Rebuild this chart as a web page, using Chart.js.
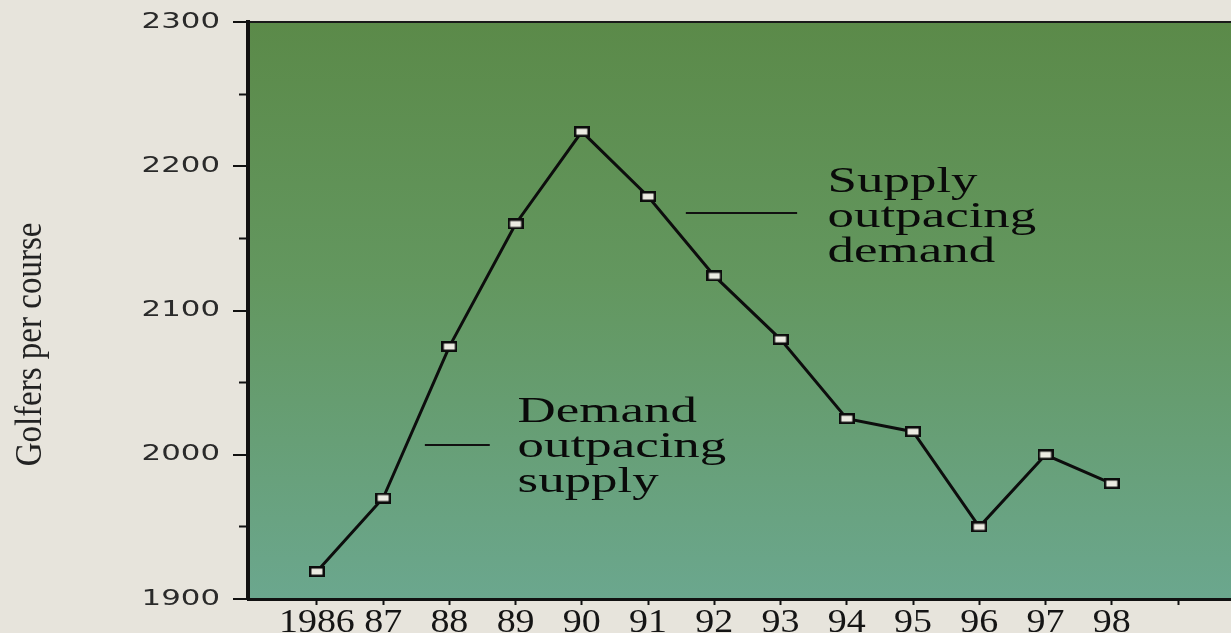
<!DOCTYPE html>
<html><head><meta charset="utf-8">
<script src="https://cdn.jsdelivr.net/npm/chart.js@4.4.1/dist/chart.umd.min.js"></script>
<style>html,body{margin:0;padding:0;background:#e7e4dc;overflow:hidden}#wrap{width:1231px;height:633px}</style>
</head><body><div id="wrap"><canvas id="c" width="1231" height="633"></canvas></div>
<script>
// ---- data ----
const years = [1986, 1987, 1988, 1989, 1990, 1991, 1992, 1993, 1994, 1995, 1996, 1997, 1998];
const golfersPerCourse = [1919, 1970, 2075, 2160, 2224, 2179, 2124, 2080, 2025, 2016, 1950, 2000, 1980];
const xTickYears = [1986, 1987, 1988, 1989, 1990, 1991, 1992, 1993, 1994, 1995, 1996, 1997, 1998, 1999];
const xTickLabels = ['1986', '87', '88', '89', '90', '91', '92', '93', '94', '95', '96', '97', '98', ''];
const yTicks = [1900, 2000, 2100, 2200, 2300];
const yMinorTicks = [1950, 2050, 2150, 2250];
const yTitle = 'Golfers per course';
const supplyLines = ['Supply', 'outpacing', 'demand'];
const demandLines = ['Demand', 'outpacing', 'supply'];

// annotation anchors (data units)
const annotations = [
  { lines: supplyLines, x: 1993.71, y: 2182, lineFrom: 1991.57, lineTo: 1993.25, lineY: 2167.6 },
  { lines: demandLines, x: 1989.03, y: 2022.7, lineFrom: 1987.63, lineTo: 1988.61, lineY: 2006.8 }
];

// ---- marker ----
const mk = document.createElement('canvas');
mk.width = 16; mk.height = 11;
const m = mk.getContext('2d');
m.fillStyle = '#0c0c0c'; m.fillRect(0, 0, 16, 11);
m.fillStyle = '#ecebe2'; m.fillRect(2.5, 2.5, 11, 6);

function noAutoPad(s) {
  s._calculatePadding = function () {
    this.paddingLeft = 0; this.paddingRight = 0; this.paddingTop = 0; this.paddingBottom = 0;
  };
}

function withStretch(ctx, sx, sy, fn) {
  const orig = CanvasRenderingContext2D.prototype.fillText;
  ctx.fillText = function (t, x, y) {
    this.save(); this.translate(x, y); this.scale(sx, sy);
    orig.call(this, t, 0, 0);
    this.restore();
  };
  try { fn(); } finally { delete ctx.fillText; }
}

const stretchPlugin = {
  id: 'stretch',
  afterLayout(chart) {
    const sx = { x: 1.15, y: 1.4 };
    for (const id of ['x', 'y']) {
      const s = chart.scales[id];
      if (s.__patched) continue;
      s.__patched = true;
      const orig = s.drawLabels;
      s.drawLabels = function (area) { withStretch(this.ctx, sx[id], 1, () => orig.call(this, area)); };
      if (id === 'y') {
        const ot = s.drawTitle;
        s.drawTitle = function () {
          this.ctx.save(); this.ctx.translate(0, 34);
          withStretch(this.ctx, 1, 1.12, () => ot.call(this));
          this.ctx.restore();
        };
      }
    }
  }
};

const bgPlugin = {
  id: 'bg',
  beforeDraw(chart) {
    const { ctx, chartArea: a } = chart;
    const g = ctx.createLinearGradient(0, a.top, 0, a.bottom);
    g.addColorStop(0, '#5b8a49');
    g.addColorStop(0.45, '#63975f');
    g.addColorStop(1, '#6ba78e');
    ctx.save();
    ctx.fillStyle = g;
    ctx.fillRect(a.left, a.top, a.right - a.left, a.bottom - a.top);
    ctx.restore();
  }
};

const annoPlugin = {
  id: 'anno',
  afterDatasetsDraw(chart) {
    const { ctx } = chart;
    const xs = chart.scales.x, ys = chart.scales.y;
    ctx.save();
    ctx.fillStyle = '#0a0a0a';
    ctx.strokeStyle = '#111';
    ctx.lineWidth = 2;
    ctx.font = '36px "Liberation Serif"';
    ctx.textAlign = 'left';
    ctx.textBaseline = 'alphabetic';
    for (const an of annotations) {
      const px = xs.getPixelForValue(an.x), py = ys.getPixelForValue(an.y);
      an.lines.forEach((ln, i) => {
        ctx.save();
        ctx.translate(px, py + i * 35);
        ctx.scale(1.47, 1);
        ctx.fillText(ln, 0, 0);
        ctx.restore();
      });
      const ly = ys.getPixelForValue(an.lineY);
      ctx.beginPath();
      ctx.moveTo(xs.getPixelForValue(an.lineFrom), ly);
      ctx.lineTo(xs.getPixelForValue(an.lineTo), ly);
      ctx.stroke();
    }
    ctx.restore();
  }
};

new Chart(document.getElementById('c'), {
  type: 'line',
  data: {
    datasets: [{
      data: years.map((yr, i) => ({ x: yr, y: golfersPerCourse[i] })),
      xAxisID: 'x', yAxisID: 'y',
      borderColor: '#0d0d0d', borderWidth: 3, tension: 0,
      pointStyle: mk, pointRadius: 8, pointHoverRadius: 8,
      fill: false, clip: false
    }]
  },
  options: {
    responsive: false, animation: false, devicePixelRatio: 1,
    layout: { autoPadding: false, padding: { top: 22, left: 0, right: 0, bottom: 0 } },
    plugins: { legend: { display: false }, tooltip: { enabled: false } },
    scales: {
      x: {
        type: 'linear', position: 'bottom', min: 1984.96, max: 1999.8,
        afterBuildTicks: s => { noAutoPad(s); s.ticks = xTickYears.map(v => ({ value: v })); },
        afterFit: s => { s.height = 34; },
        ticks: {
          autoSkip: false, maxRotation: 0, padding: 2, color: '#151515',
          font: { family: 'Liberation Serif', size: 33, lineHeight: 1 },
          callback: (v, i) => xTickLabels[i]
        },
        grid: { drawOnChartArea: false, tickLength: 6, tickColor: '#111', tickWidth: 2, color: '#111' },
        border: { color: '#111', width: 3 }
      },
      y: {
        type: 'linear', position: 'left', weight: 1, min: 1900, max: 2300,
        afterBuildTicks: s => { noAutoPad(s); s.ticks = yTicks.map(v => ({ value: v })); },
        afterFit: s => { s.width = 248; },
        ticks: {
          padding: 13, color: '#2a2a2a',
          font: { family: 'DejaVu Sans', size: 22 },
          callback: v => String(v)
        },
        grid: {
          drawOnChartArea: true,
          color: c => (c.tick && c.tick.value === 2300) ? '#1a1a1a' : 'rgba(0,0,0,0)',
          lineWidth: 2, tickColor: '#111', tickWidth: 2, tickLength: 15
        },
        border: { color: '#111', width: 4 },
        title: {
          display: true, text: yTitle, color: '#222',
          font: { family: 'Liberation Serif', size: 33 },
          padding: { top: 11, bottom: 0 }
        }
      },
      yMinor: {
        type: 'linear', position: 'left', weight: 0, min: 1900, max: 2300,
        afterBuildTicks: s => { noAutoPad(s); s.ticks = yMinorTicks.map(v => ({ value: v })); },
        afterFit: s => { s.width = 0; },
        ticks: { display: false },
        grid: { drawOnChartArea: false, tickLength: 9, tickColor: '#111', tickWidth: 2 },
        border: { display: false }
      }
    }
  },
  plugins: [bgPlugin, stretchPlugin, annoPlugin]
});
</script>
</body></html>
